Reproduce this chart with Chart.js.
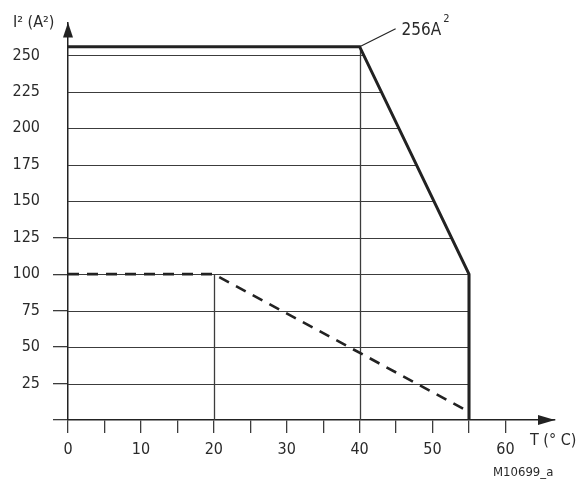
<!DOCTYPE html>
<html>
<head>
<meta charset="utf-8">
<script src="https://cdn.jsdelivr.net/npm/chart.js@4/dist/chart.umd.min.js"></script>
<style>
  html, body { margin: 0; background: #fff; }
  canvas { display: block; }
</style>
</head>
<body>
<canvas id="chart" width="578" height="486"></canvas>
<script>
// derating curve: I^2 vs ambient temperature
const solidT = [0, 40, 55, 55];
const solidI2 = [256, 256, 100, 0];
const dashedT = [0, 20, 54.5];
const dashedI2 = [100, 100, 7];

const xTicks = [0, 5, 10, 15, 20, 25, 30, 35, 40, 45, 50, 55, 60];
const yTicks = [0, 25, 50, 75, 100, 125, 150, 175, 200, 225, 250];
const yTickMarksUpTo = 125;   // only the lower ticks have a mark left of the axis

const yTitle = 'I² (A²)';
const xTitle = 'T (° C)';
const peakText = '256A';
const drawingRef = 'M10699_a';

const INK = '#222';
const GRID = '#3c3c3c';
const FONT = "'Liberation Sans Narrow', 'DejaVu Sans Condensed', 'Liberation Sans', sans-serif";

Chart.defaults.font.family = FONT;
Chart.defaults.color = '#2a2a2a';

const toPoints = (xs, ys) => xs.map((x, i) => ({ x: x, y: ys[i] }));

// grid lines only inside the area under the solid curve, plus drop lines at the knees
const clippedGrid = {
    id: 'clippedGrid',
    beforeDatasetsDraw(chart) {
        const { ctx } = chart;
        const xs = chart.scales.x, ys = chart.scales.y;
        const solid = chart.data.datasets[0].data;

        ctx.save();
        ctx.beginPath();
        ctx.moveTo(xs.getPixelForValue(0), ys.getPixelForValue(0));
        solid.forEach(p => ctx.lineTo(xs.getPixelForValue(p.x), ys.getPixelForValue(p.y)));
        ctx.closePath();
        ctx.clip();

        ctx.strokeStyle = GRID;
        ctx.lineWidth = 1.2;
        ctx.beginPath();
        yTicks.filter(v => v > 0).forEach(v => {
            const py = Math.round(ys.getPixelForValue(v)) + 0.5;
            ctx.moveTo(xs.getPixelForValue(0), py);
            ctx.lineTo(xs.getPixelForValue(solidT[solidT.length - 1]) + 2, py);
        });
        ctx.stroke();
        ctx.restore();

        // vertical drop lines under inner knee points
        ctx.save();
        ctx.strokeStyle = GRID;
        ctx.lineWidth = 1.3;
        ctx.beginPath();
        chart.data.datasets.forEach(ds => {
            ds.data.slice(1, -1).forEach(p => {
                const px = Math.round(xs.getPixelForValue(p.x)) + 0.5;
                ctx.moveTo(px, ys.getPixelForValue(0));
                ctx.lineTo(px, ys.getPixelForValue(p.y));
            });
        });
        ctx.stroke();
        ctx.restore();
    },
    afterDraw(chart) {
        const { ctx, chartArea } = chart;
        const xs = chart.scales.x, ys = chart.scales.y;
        const ox = xs.getPixelForValue(0), oy = ys.getPixelForValue(0);

        ctx.save();
        ctx.fillStyle = INK;
        // arrow heads on both axes
        ctx.beginPath();
        ctx.moveTo(ox, chartArea.top);
        ctx.lineTo(ox - 5, chartArea.top + 15);
        ctx.lineTo(ox + 5, chartArea.top + 15);
        ctx.closePath();
        ctx.fill();
        ctx.beginPath();
        ctx.moveTo(chartArea.right, oy);
        ctx.lineTo(chartArea.right - 17, oy - 5);
        ctx.lineTo(chartArea.right - 17, oy + 5);
        ctx.closePath();
        ctx.fill();

        // peak callout
        const pk = { x: solidT[1], y: solidI2[1] };
        const px = xs.getPixelForValue(pk.x), py = ys.getPixelForValue(pk.y);
        ctx.strokeStyle = INK;
        ctx.lineWidth = 1.2;
        ctx.beginPath();
        ctx.moveTo(px, py);
        ctx.lineTo(px + 36, py - 18);
        ctx.stroke();

        ctx.fillStyle = '#2a2a2a';
        ctx.textBaseline = 'alphabetic';
        ctx.textAlign = 'left';
        ctx.font = '17px ' + FONT;
        ctx.fillText(peakText, px + 42, py - 12);
        const w = ctx.measureText(peakText).width;
        ctx.font = '11px ' + FONT;
        ctx.fillText('2', px + 44 + w, py - 25);

        // axis titles and drawing reference
        ctx.font = '16px ' + FONT;
        ctx.fillText(yTitle, 13, 27);
        ctx.fillText(xTitle, 530, 445);
        ctx.font = '13px ' + FONT;
        ctx.fillText(drawingRef, 493, 476);
        ctx.restore();
    }
};

new Chart(document.getElementById('chart'), {
    type: 'line',
    data: {
        datasets: [{
            data: toPoints(solidT, solidI2),
            borderColor: INK,
            borderWidth: 3,
            pointRadius: 0,
            tension: 0,
            fill: false
        }, {
            data: toPoints(dashedT, dashedI2),
            borderColor: INK,
            borderWidth: 2.6,
            borderDash: [11, 8],
            pointRadius: 0,
            tension: 0,
            fill: false
        }]
    },
    options: {
        responsive: false,
        animation: false,
        layout: { padding: { top: 21, right: 23, left: 0, bottom: 0 } },
        plugins: { legend: { display: false }, tooltip: { enabled: false } },
        scales: {
            x: {
                type: 'linear',
                min: 0,
                max: 66.8,
                afterBuildTicks: s => { s.ticks = xTicks.map(v => ({ value: v })); },
                afterFit: s => { s.height = 66; },
                border: { display: true, color: INK, width: 1.5 },
                grid: { drawOnChartArea: false, tickLength: 13, tickColor: GRID, lineWidth: 1.3 },
                ticks: {
                    padding: 7,
                    font: { size: 16 },
                    color: '#2a2a2a',
                    callback: v => (v % 10 === 0 ? v : '')
                }
            },
            y: {
                type: 'linear',
                min: 0,
                max: 272.5,
                afterBuildTicks: s => { s.ticks = yTicks.map(v => ({ value: v })); },
                afterFit: s => { s.width = 68; },
                border: { display: true, color: INK, width: 1.5 },
                grid: {
                    drawOnChartArea: false,
                    tickLength: 15,
                    lineWidth: 1.3,
                    tickColor: c => (c.tick && c.tick.value <= yTickMarksUpTo ? GRID : 'rgba(0,0,0,0)')
                },
                ticks: {
                    padding: 13,
                    font: { size: 16 },
                    color: '#2a2a2a',
                    callback: v => (v === 0 ? '' : v)
                }
            }
        }
    },
    plugins: [clippedGrid]
});
</script>
</body>
</html>
